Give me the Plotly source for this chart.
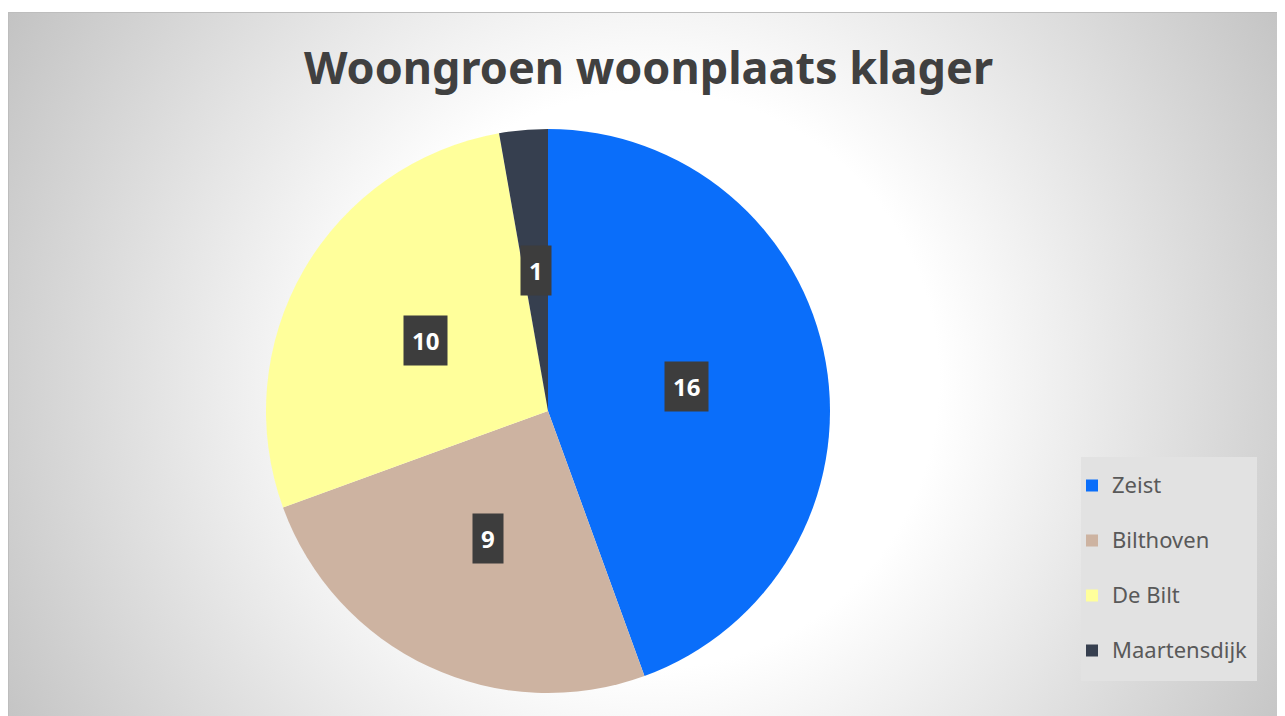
import math, base64
import plotly.graph_objects as go

categories = ["Zeist", "Bilthoven", "De Bilt", "Maartensdijk"]
values = [16, 9, 10, 1]
colors = ["#0A6EFA", "#CDB3A1", "#FFFF9B", "#363F4F"]
title_text = "Woongroen woonplaats klager"

W, H = 1277, 708
# pie placement in pixels (figure coordinates)
PCX, PCY, PR = 540, 403, 282
dom_x = [(PCX - PR) / W, (PCX + PR) / W]
dom_y = [(H - PCY - PR) / H, (H - PCY + PR) / H]

fig = go.Figure()
fig.add_trace(go.Pie(
    labels=[f'<span style="font-size:22px">{c}</span><br> ' for c in categories],
    values=values, sort=False, direction="clockwise",
    rotation=0, marker=dict(colors=colors, line=dict(width=0)),
    textinfo="none", hoverinfo="value",
    domain=dict(x=dom_x, y=dom_y),
))

# data labels derived from values
total = sum(values)
cum = 0
cx = (dom_x[0] + dom_x[1]) / 2
cy = (dom_y[0] + dom_y[1]) / 2
for v in values:
    mid = (cum + v / 2) / total * 2 * math.pi
    cum += v
    r = 0.5 * PR
    ax = cx + r * math.sin(mid) / W
    ay = cy + r * math.cos(mid) / H
    fig.add_annotation(x=ax, y=ay, xref="paper", yref="paper", text=f"<b>{v}</b>",
                       showarrow=False, font=dict(color="white", size=24, family="Noto Sans"),
                       bgcolor="#3D3D3D", borderpad=8, xanchor="center", yanchor="middle")

CW, CH = W, H - 4
svg = f'''<svg xmlns="http://www.w3.org/2000/svg" width="{CW}" height="{CH}" viewBox="0 0 {CW} {CH}">
<defs><radialGradient id="g" cx="642" cy="368" r="760" gradientUnits="userSpaceOnUse">
<stop offset="0" stop-color="#FFFFFF"/><stop offset="0.38" stop-color="#FFFFFF"/>
<stop offset="1" stop-color="#C0C0C0"/></radialGradient></defs>
<rect x="0" y="0" width="{CW}" height="{CH}" fill="url(#g)"/>
<line x1="0.5" y1="0.5" x2="{CW}" y2="0.5" stroke="#BDBDBD" stroke-width="1"/>
<line x1="0.5" y1="0.5" x2="0.5" y2="{CH}" stroke="#BDBDBD" stroke-width="1"/>
</svg>'''
src = "data:image/svg+xml;base64," + base64.b64encode(svg.encode()).decode()
fig.add_layout_image(source=src, xref="paper", yref="paper", x=0, y=1 - 4 / H,
                     sizex=1, sizey=CH / H, xanchor="left", yanchor="top",
                     sizing="stretch", layer="below")

# legend background panel
fig.add_shape(type="rect", xref="paper", yref="paper",
              x0=1073 / W, x1=1249 / W, y0=1 - 673 / H, y1=1 - 449 / H,
              fillcolor="#E2E2E2", line=dict(width=0), layer="above")

fig.update_layout(
    width=W, height=H, autosize=False,
    margin=dict(l=0, r=0, t=0, b=0),
    paper_bgcolor="white", plot_bgcolor="white",
    title=dict(text=f"<b>{title_text}</b>", x=640.5 / W, xanchor="center",
               y=1 - 60 / H, yanchor="middle", yref="container",
               font=dict(size=45, color="#404040", family="Noto Sans")),
    legend=dict(x=1064 / W, y=1 - 458 / H, xanchor="left", yanchor="top",
                bgcolor="rgba(0,0,0,0)", borderwidth=0, valign="top",
                font=dict(size=20, color="#595959", family="Noto Sans"),
                itemwidth=30),
    showlegend=True,
)
fig.write_html("out.html")
